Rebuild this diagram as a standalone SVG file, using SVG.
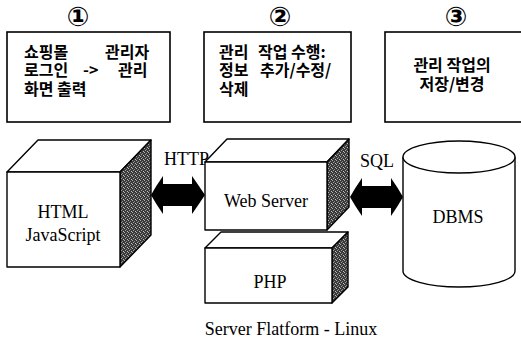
<svg xmlns="http://www.w3.org/2000/svg" width="521" height="341" viewBox="0 0 521 341">
<style>
.box{fill:#fff;stroke:#000;stroke-width:1.6}
.face{fill:#fff;stroke:#000;stroke-width:1.4;stroke-linejoin:round}
.side{fill:url(#stip);stroke:#000;stroke-width:1.4;stroke-linejoin:round}
.ko{font-family:"Noto Sans CJK KR","Noto Sans",sans-serif;font-size:16px;font-weight:bold;fill:#000}
.num{font-family:"DejaVu Sans","Noto Sans CJK KR",sans-serif;font-size:27px;font-weight:bold;fill:#000;text-anchor:middle}
.lbl{font-family:"Liberation Serif","Times New Roman",serif;font-size:18px;fill:#000}
.mid{text-anchor:middle}
.arrow{fill:#000}
</style>
<defs>
<pattern id="stip" width="4" height="4" patternUnits="userSpaceOnUse">
<rect width="4" height="4" fill="#3a3a3a"/>
<rect x="0" y="0" width="1" height="1" fill="#b0b0b0"/>
<rect x="2" y="1" width="1" height="1" fill="#8a8a8a"/>
<rect x="1" y="2" width="1" height="1" fill="#a0a0a0"/>
<rect x="3" y="3" width="1" height="1" fill="#c0c0c0"/>
</pattern>
</defs>
<rect width="521" height="341" fill="#fff"/>

<g id="step1">
<text class="num" x="78" y="26">①</text>
<rect class="box" x="7" y="32" width="163" height="90"/>
<text class="ko" y="57.5"><tspan x="24">쇼핑몰</tspan><tspan x="105">관리자</tspan></text>
<text class="ko" y="76"><tspan x="24">로그인</tspan><tspan x="83">-&gt;</tspan><tspan x="118">관리</tspan></text>
<text class="ko" x="24" y="94.5">화면 출력</text>
</g>

<g id="step2">
<text class="num" x="280" y="26">②</text>
<rect class="box" x="204" y="32" width="147" height="90"/>
<text class="ko" y="57.5"><tspan x="219">관리</tspan><tspan x="258">작업</tspan><tspan x="291">수행:</tspan></text>
<text class="ko" y="76"><tspan x="219">정보</tspan><tspan x="260">추가/수정/</tspan></text>
<text class="ko" x="219" y="94.5">삭제</text>
</g>

<g id="step3">
<text class="num" x="456" y="26">③</text>
<rect class="box" x="385" y="32" width="150" height="90"/>
<text class="ko mid" x="452" y="71">관리 작업의</text>
<text class="ko mid" x="452" y="90">저장/변경</text>
</g>

<g id="client">
<polygon class="face" points="7,172 38,140 151,140 120,172"/>
<polygon class="side" points="120,172 151,140 151,235 120,267"/>
<rect class="face" x="7" y="172" width="113" height="95"/>
<text class="lbl mid" x="63" y="218">HTML</text>
<text class="lbl mid" x="63" y="241">JavaScript</text>
</g>

<g id="webserver">
<polygon class="face" points="205,162 227,139 349,139 327,162"/>
<polygon class="side" points="327,162 349,139 349,207 327,230"/>
<rect class="face" x="205" y="162" width="122" height="68"/>
<text class="lbl mid" x="266" y="207">Web Server</text>
</g>

<g id="php">
<polygon class="face" points="205,248 221,232 348,232 332,248"/>
<polygon class="side" points="332,248 348,232 348,287 332,303"/>
<rect class="face" x="205" y="248" width="127" height="55"/>
<text class="lbl mid" x="270" y="288">PHP</text>
</g>

<g id="dbms">
<path class="face" d="M403,157 L403,271 A56,16 0 0 0 515,271 L515,157"/>
<ellipse class="face" cx="459" cy="157" rx="56" ry="16"/>
<text class="lbl mid" x="458" y="223">DBMS</text>
</g>

<g id="connectors">
<path class="arrow" d="M151,195 Q156,186 163,176 L163,184 L192,184 L192,176 Q199,186 205,195 Q199,204 192,214 L192,206 L163,206 L163,214 Q156,204 151,195 Z"/>
<text class="lbl" x="164" y="165">HTTP</text>
<path class="arrow" d="M350,197 Q355,188 362,178 L362,186 L391,186 L391,178 Q398,188 403,197 Q398,206 391,216 L391,208 L362,208 L362,216 Q355,206 350,197 Z"/>
<text class="lbl" x="360" y="167">SQL</text>
</g>

<text class="lbl mid" x="291" y="335">Server Flatform - Linux</text>
</svg>
